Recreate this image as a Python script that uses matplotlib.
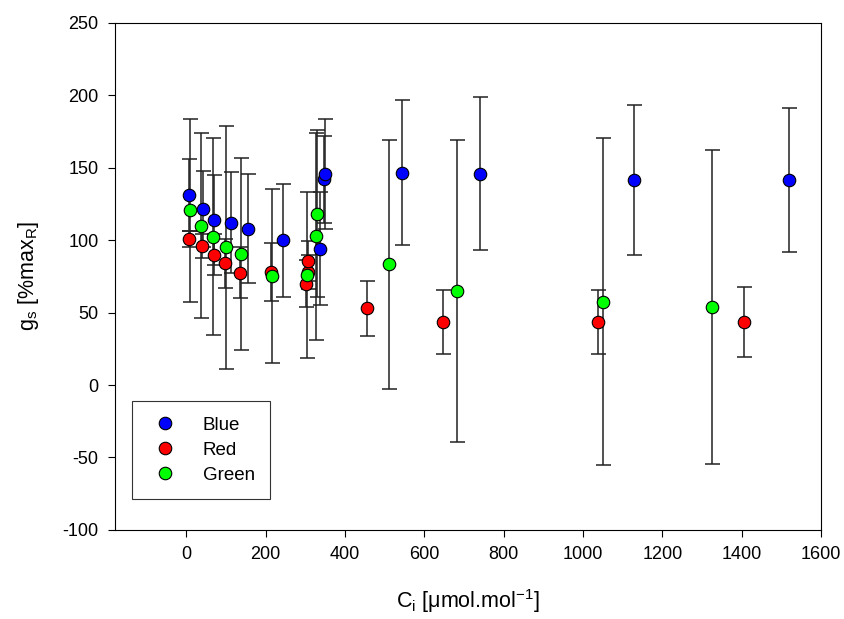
import matplotlib.pyplot as plt

plt.rcParams['font.family'] = ['Liberation Sans', 'DejaVu Sans']
plt.rcParams['axes.unicode_minus'] = False

# values
blue_x = [7, 42, 70, 114, 156, 243, 336, 346, 350, 544, 740, 1129, 1519]
blue_y = [131, 121.5, 114, 112, 108, 100, 94, 142, 145.5, 146.5, 146, 141.5, 141.5]
blue_err = [25, 26, 31, 35, 37.5, 39, 39, 30, 38, 50, 53, 52, 50]

red_x = [8, 40, 69, 97, 135, 214, 301, 307, 308, 455, 646, 1037, 1406]
red_y = [100.5, 96, 90, 84, 77.5, 78, 70, 78, 85.5, 53, 43.5, 43.5, 43.5]
red_err = [5.5, 8, 14, 17, 17.5, 20, 16, 12, 14, 19, 22, 22, 24.5]

green_x = [9, 38, 68, 100, 137, 215, 304, 328, 330, 511, 683, 1050, 1325]
green_y = [120.5, 110, 102.5, 95, 90.5, 75, 76, 102.7, 118.4, 83.4, 65, 57.5, 54]
green_err = [63, 64, 68, 84, 66, 60, 57.5, 71.6, 57.6, 86, 104.5, 112.7, 108.5]

x_ticks = [0, 200, 400, 600, 800, 1000, 1200, 1400, 1600]
y_ticks = [-100, -50, 0, 50, 100, 150, 200, 250]

fig = plt.figure(figsize=(8.44, 6.19), dpi=100)
ax = fig.add_axes([0.136, 0.144, 0.837, 0.819])

series = [('Blue', blue_x, blue_y, blue_err, '#0000ff'),
          ('Red', red_x, red_y, red_err, '#ff0000'),
          ('Green', green_x, green_y, green_err, '#00ff00')]

for name, xs, ys, es, col in series:
    ax.errorbar(xs, ys, yerr=es, fmt='none', ecolor='#222222', elinewidth=1.1,
                capsize=5.4, capthick=1.1, zorder=2)
for name, xs, ys, es, col in series:
    ax.plot(xs, ys, 'o', color=col, markeredgecolor='black', markeredgewidth=0.8,
            markersize=9, label=name, linestyle='none', zorder=3)

ax.set_xlim(-180, 1600)
ax.set_ylim(-100, 250)
ax.set_xticks(x_ticks)
ax.set_yticks(y_ticks)
ax.tick_params(direction='out', length=4.8, width=0.8, labelsize=13, pad=7,
               top=False, right=False)
for s in ax.spines.values():
    s.set_linewidth(0.8)

ax.set_xlabel(r'C$_\mathregular{i}$ [$\mathregular{\mu}$mol.mol$^\mathregular{-1}$]',
              fontsize=15.5, labelpad=17)
ax.set_ylabel(r'g$_\mathregular{s}$ [%max$_\mathregular{R}$]', fontsize=15.5, labelpad=15)

leg = ax.legend(loc='lower left', bbox_to_anchor=(0.0237, 0.0617), fontsize=13.5,
                frameon=True, fancybox=False, edgecolor='black', borderpad=0.8,
                handletextpad=1.0, labelspacing=0.42, borderaxespad=0,
                handlelength=2.0)
leg.get_frame().set_linewidth(0.8)

fig.savefig('out.png', dpi=100)
